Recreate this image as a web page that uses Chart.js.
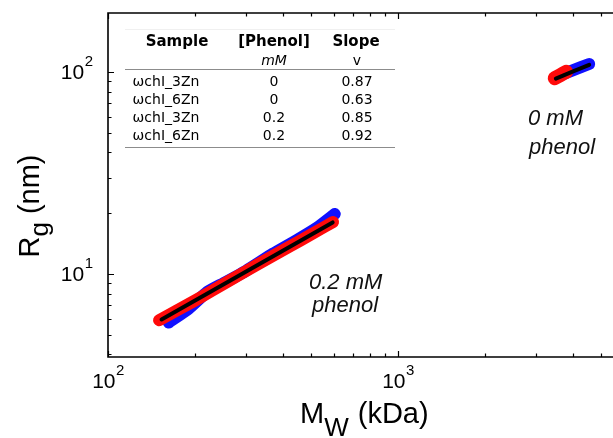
<!DOCTYPE html>
<html>
<head>
<meta charset="utf-8">
<script src="https://cdn.jsdelivr.net/npm/chart.js@4.4.0/dist/chart.umd.min.js"></script>
<style>
  html, body { margin: 0; padding: 0; background: #fff; }
  #wrap { width: 613px; height: 438px; }
</style>
</head>
<body>
<div id="wrap"><canvas id="rgChart" width="613" height="438"></canvas></div>
<script>
// Rg vs Mw (log-log)
// red = wchI_3Zn, blue = wchI_6Zn
const red02Mw = [150, 200, 260, 330, 420, 510, 597];
const red02Rg = [5.9, 7.4, 9.2, 11.2, 13.6, 15.9, 18.1];
const blue02Mw = [162, 190, 220, 250, 300, 370, 450, 530, 605];
const blue02Rg = [5.75, 6.75, 8.15, 9.0, 10.4, 12.6, 14.8, 17.1, 19.8];
const fit02Mw = [153, 595];
const fit02Rg = [5.95, 18.0];

const red0Mw = [3470, 3630, 3800];
const red0Rg = [93.2, 96.6, 100.2];
const blue0Mw = [3500, 4000, 4560];
const blue0Rg = [94.5, 101.9, 109.6];
const fit0Mw = [3500, 4560];
const fit0Rg = [92.8, 108.6];

// axis
const xMin = 100, xMax = 5510;
const yMin = 3.88, yMax = 196;
const xTicks = [100, 200, 300, 400, 500, 600, 700, 800, 900, 1000, 2000, 3000, 4000, 5000];
const yTicks = [4, 5, 6, 7, 8, 9, 10, 20, 30, 40, 50, 60, 70, 80, 90, 100];
const xMajor = [100, 1000];
const yMajor = [10, 100];
const xLabelExp = ['2', '3'];
const yLabelExp = ['1', '2'];

// inset table
const tableHead = ['Sample', '[Phenol]', 'Slope'];
const tableUnits = ['', 'mM', 'v'];
const sampleNames = ['ωchI_3Zn', 'ωchI_6Zn', 'ωchI_3Zn', 'ωchI_6Zn'];
const phenolConc = ['0', '0', '0.2', '0.2'];
const slopes = ['0.87', '0.63', '0.85', '0.92'];

function toPoints(xs, ys) {
    return xs.map((x, i) => ({ x: x, y: ys[i] }));
}

function band(label, xs, ys, color, width, order) {
    return {
        label: label,
        data: toPoints(xs, ys),
        showLine: true,
        borderColor: color,
        backgroundColor: color,
        borderWidth: width,
        borderCapStyle: 'round',
        borderJoinStyle: 'round',
        pointRadius: 0,
        tension: 0.15,
        order: order
    };
}

// draws frame, inward ticks, labels, table and notes
const decorPlugin = {
    id: 'decor',
    afterDraw(chart) {
        const ctx = chart.ctx;
        const area = chart.chartArea;
        const xs = chart.scales.x;
        const ys = chart.scales.y;
        ctx.save();

        // frame (right side is outside the picture)
        ctx.strokeStyle = '#000';
        ctx.lineWidth = 1.6;
        ctx.beginPath();
        ctx.moveTo(chart.width + 2, area.top);
        ctx.lineTo(area.left, area.top);
        ctx.lineTo(area.left, area.bottom);
        ctx.lineTo(chart.width + 2, area.bottom);
        ctx.stroke();

        ctx.lineWidth = 1.2;
        ctx.beginPath();
        xTicks.forEach(v => {
            const px = Math.round(xs.getPixelForValue(v)) + 0.5;
            const len = xMajor.includes(v) ? 6 : 3.5;
            ctx.moveTo(px, area.bottom);
            ctx.lineTo(px, area.bottom - len);
            ctx.moveTo(px, area.top);
            ctx.lineTo(px, area.top + len);
        });
        yTicks.forEach(v => {
            const py = Math.round(ys.getPixelForValue(v)) + 0.5;
            const len = yMajor.includes(v) ? 6 : 3.5;
            ctx.moveTo(area.left, py);
            ctx.lineTo(area.left + len, py);
        });
        ctx.stroke();

        // tick labels 10^n
        ctx.fillStyle = '#000';
        ctx.textBaseline = 'middle';
        const baseFont = '21px "Liberation Sans", Arial, sans-serif';
        const supFont = '15px "Liberation Sans", Arial, sans-serif';
        xMajor.forEach((v, i) => {
            const px = xs.getPixelForValue(v);
            ctx.font = baseFont;
            const w1 = ctx.measureText('10').width;
            ctx.font = supFont;
            const w2 = ctx.measureText(xLabelExp[i]).width;
            const x0 = px - (w1 + w2) / 2;
            ctx.textAlign = 'left';
            ctx.font = baseFont;
            ctx.fillText('10', x0, 382);
            ctx.font = supFont;
            ctx.fillText(xLabelExp[i], x0 + w1 + 0.5, 371);
        });
        yMajor.forEach((v, i) => {
            const py = ys.getPixelForValue(v);
            ctx.font = supFont;
            const w2 = ctx.measureText(yLabelExp[i]).width;
            ctx.textAlign = 'right';
            ctx.fillText(yLabelExp[i], 93, py - 10);
            ctx.font = baseFont;
            ctx.fillText('10', 93 - w2 - 0.5, py + 1);
        });

        // axis titles with subscripts
        const titleFont = '29px "Liberation Sans", Arial, sans-serif';
        const subFont = '26px "Liberation Sans", Arial, sans-serif';
        ctx.textAlign = 'left';
        ctx.font = titleFont;
        const wM = ctx.measureText('M').width;
        ctx.font = subFont;
        const wW = ctx.measureText('W').width;
        let tx = 300;
        ctx.font = titleFont;
        ctx.fillText('M', tx, 415);
        ctx.fillText(' (kDa)', tx + wM + wW + 1, 415);
        ctx.font = subFont;
        ctx.fillText('W', tx + wM, 429);

        ctx.save();
        ctx.translate(31, 206);
        ctx.rotate(-Math.PI / 2);
        ctx.font = titleFont;
        const wR = ctx.measureText('R').width;
        const wn = ctx.measureText(' (nm)').width;
        ctx.font = subFont;
        const wg = ctx.measureText('g').width;
        tx = -(wR + wg + wn) / 2;
        ctx.font = titleFont;
        ctx.fillText('R', tx, 0);
        ctx.fillText(' (nm)', tx + wR + wg, 0);
        ctx.font = subFont;
        ctx.fillText('g', tx + wR, 10);
        ctx.restore();

        // notes
        ctx.font = 'italic 22px "Liberation Sans", Arial, sans-serif';
        ctx.textAlign = 'left';
        ctx.fillStyle = '#111';
        ctx.fillText('0 mM', 528, 119);
        ctx.fillText('phenol', 529, 148);
        ctx.fillText('0.2 mM', 309, 283);
        ctx.fillText('phenol', 312, 306);

        // inset table
        const colX = [166, 274, 357];
        const headX = [177, 274, 356];
        ctx.strokeStyle = '#f0f0f0';
        ctx.lineWidth = 1;
        ctx.beginPath();
        ctx.moveTo(125, 29.5);
        ctx.lineTo(395, 29.5);
        ctx.stroke();
        ctx.strokeStyle = '#8c8c8c';
        ctx.beginPath();
        ctx.moveTo(125, 69.5);
        ctx.lineTo(395, 69.5);
        ctx.moveTo(125, 147.5);
        ctx.lineTo(395, 147.5);
        ctx.stroke();

        ctx.fillStyle = '#000';
        ctx.textAlign = 'center';
        ctx.font = 'bold 15px "DejaVu Sans", Verdana, sans-serif';
        tableHead.forEach((h, i) => ctx.fillText(h, headX[i], 42));
        tableUnits.forEach((u, i) => {
            ctx.font = (u === 'mM' ? 'italic ' : '') + '14px "DejaVu Sans", Verdana, sans-serif';
            ctx.fillText(u, colX[i], 61);
        });
        ctx.font = '14px "DejaVu Sans", Verdana, sans-serif';
        sampleNames.forEach((s, r) => {
            const y = 82 + r * 18;
            ctx.fillText(s, colX[0], y);
            ctx.fillText(phenolConc[r], colX[1], y);
            ctx.fillText(slopes[r], colX[2], y);
        });

        ctx.restore();
    }
};

new Chart(document.getElementById('rgChart'), {
    type: 'scatter',
    data: {
        datasets: [
            band('fit 0.2 mM', fit02Mw, fit02Rg, '#000000', 4, 0),
            band('fit 0 mM', fit0Mw, fit0Rg, '#000000', 4, 0),
            band('wchI_3Zn 0.2 mM', red02Mw, red02Rg, '#ff0a0a', 12, 1),
            band('wchI_3Zn 0 mM', red0Mw, red0Rg, '#ff0a0a', 14, 1),
            band('wchI_6Zn 0.2 mM', blue02Mw, blue02Rg, '#1010ff', 12, 2),
            band('wchI_6Zn 0 mM', blue0Mw, blue0Rg, '#1010ff', 12, 2)
        ]
    },
    options: {
        responsive: false,
        animation: false,
        layout: { padding: { left: 108, top: 13, right: 0, bottom: 81 } },
        plugins: {
            legend: { display: false },
            tooltip: { enabled: false }
        },
        scales: {
            x: { type: 'logarithmic', min: xMin, max: xMax, display: false },
            y: { type: 'logarithmic', min: yMin, max: yMax, display: false }
        }
    },
    plugins: [decorPlugin]
});
</script>
</body>
</html>
